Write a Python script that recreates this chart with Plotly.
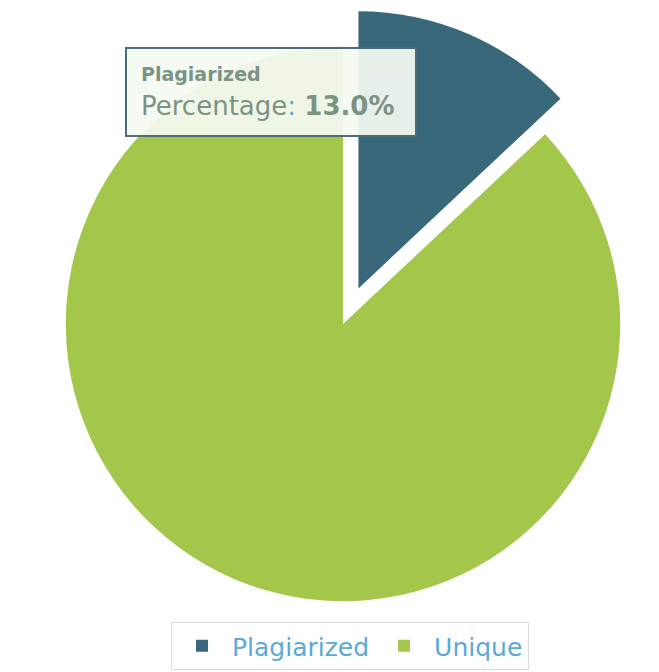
import plotly.graph_objects as go

labels = ["Plagiarized", "Unique"]
values = [13.0, 87.0]
colors = ["#386879", "#a3c64b"]
pulls = [0.14, 0]

# page body has an 8px margin, so the figure is sized to fit the window
W, H = 651, 664

fig = go.Figure(go.Pie(
    labels=labels,
    values=values,
    marker=dict(colors=colors, line=dict(width=0)),
    pull=pulls,
    sort=False,
    direction="clockwise",
    rotation=0,
    textinfo="none",
    hoverinfo="label+percent",
    domain=dict(x=[19 / W, 1.0], y=[1 - 632 / H, 1.0]),
))

fig.add_annotation(
    xref="paper", yref="paper",
    x=117 / W, y=1 - 39 / H,
    xanchor="left", yanchor="top",
    text=("<span style='font-size:19px'><b>" + labels[0] + "</b></span><br>"
          "Percentage<span style='color:#5aa9d6'>:</span> <b>"
          + f"{values[0]:.1f}%" + "</b>"),
    showarrow=False,
    align="left",
    valign="middle",
    width=260, height=58,
    borderpad=14,
    bgcolor="rgba(244,250,242,0.93)",
    bordercolor="#4a6d78",
    borderwidth=2,
    font=dict(family="DejaVu Sans", size=26, color="#7c9384"),
)

fig.update_layout(
    width=W, height=H,
    margin=dict(l=0, r=0, t=0, b=0),
    paper_bgcolor="white",
    plot_bgcolor="white",
    showlegend=True,
    legend=dict(
        orientation="h",
        x=342 / W, xanchor="center",
        y=0.003, yanchor="bottom",
        font=dict(family="DejaVu Sans", size=25, color="#5aa9d6"),
        bordercolor="#d8dcdc", borderwidth=1,
        bgcolor="white",
        itemwidth=50,
    ),
)

fig.write_html("out.html")
